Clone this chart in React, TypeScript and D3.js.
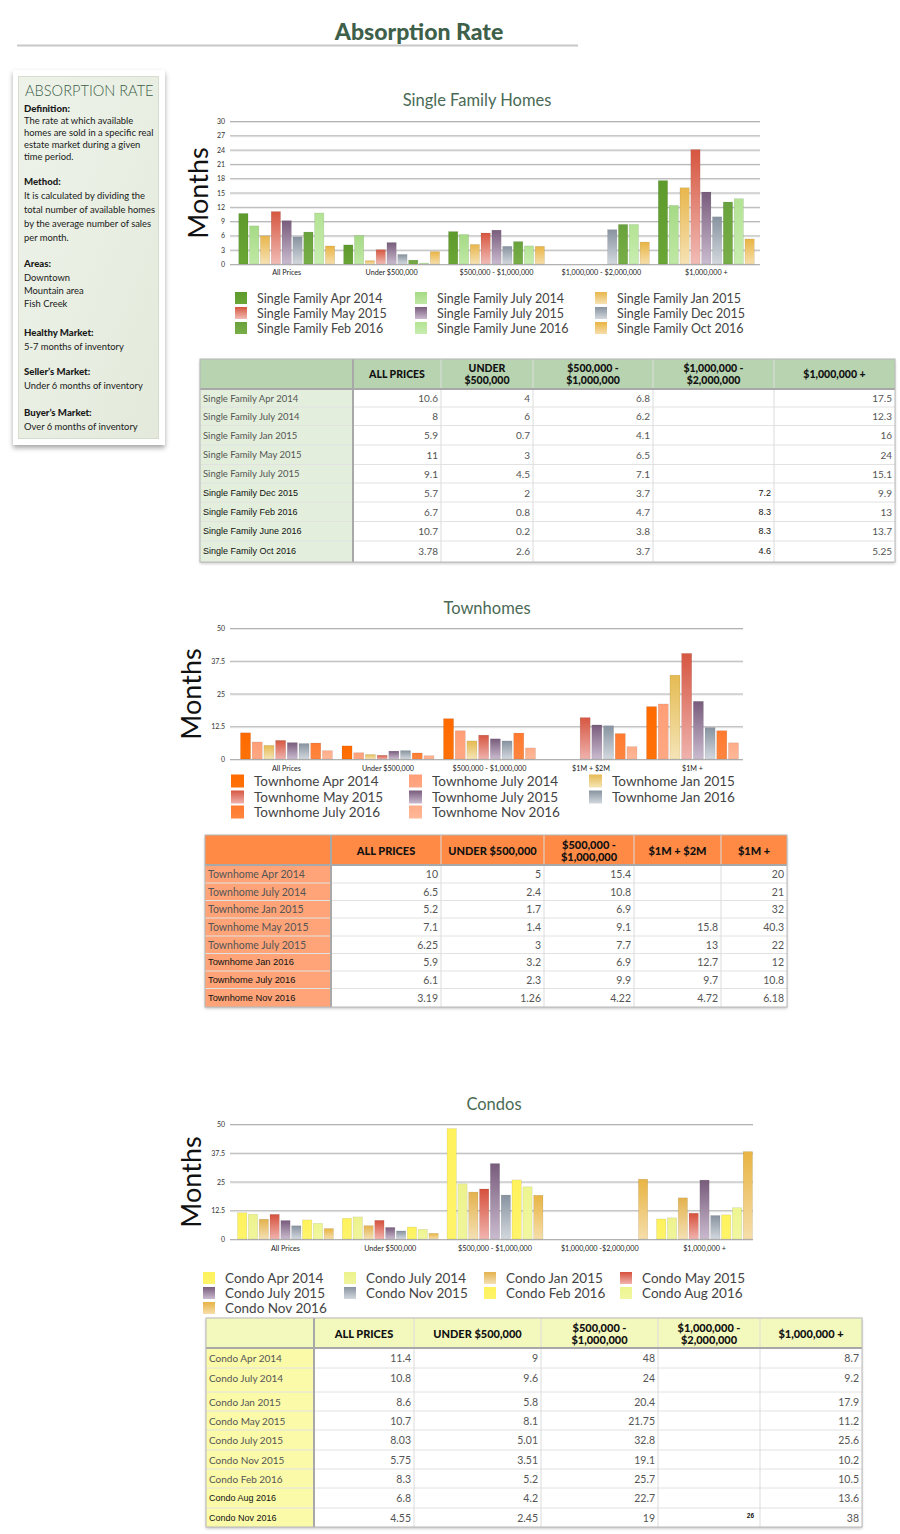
import React from "react";
import * as d3 from "d3";

type Val = number | null;

const SANS = "Lato, 'Open Sans', sans-serif";
const ARIAL = "'Liberation Sans', Arial, sans-serif";

// ---------- Single Family Homes ----------
const sfCategories = ["All Prices", "Under $500,000", "$500,000 - $1,000,000", "$1,000,000 - $2,000,000", "$1,000,000 +"];
const sfHeader = [["ALL PRICES"], ["UNDER", "$500,000"], ["$500,000 -", "$1,000,000"], ["$1,000,000 -", "$2,000,000"], ["$1,000,000 +"]];
const sfNames = [
  "Single Family Apr 2014", "Single Family July 2014", "Single Family Jan 2015",
  "Single Family May 2015", "Single Family July 2015", "Single Family Dec 2015",
  "Single Family Feb 2016", "Single Family June 2016", "Single Family Oct 2016",
];
const sfApr2014: Val[] = [10.6, 4, 6.8, null, 17.5];
const sfJul2014: Val[] = [8, 6, 6.2, null, 12.3];
const sfJan2015: Val[] = [5.9, 0.7, 4.1, null, 16];
const sfMay2015: Val[] = [11, 3, 6.5, null, 24];
const sfJul2015: Val[] = [9.1, 4.5, 7.1, null, 15.1];
const sfDec2015: Val[] = [5.7, 2, 3.7, 7.2, 9.9];
const sfFeb2016: Val[] = [6.7, 0.8, 4.7, 8.3, 13];
const sfJun2016: Val[] = [10.7, 0.2, 3.8, 8.3, 13.7];
const sfOct2016: Val[] = [3.78, 2.6, 3.7, 4.6, 5.25];
const sfValues = [sfApr2014, sfJul2014, sfJan2015, sfMay2015, sfJul2015, sfDec2015, sfFeb2016, sfJun2016, sfOct2016];
const sfTicks = [0, 3, 6, 9, 12, 15, 18, 21, 24, 27, 30];
const sfColors: [string, string][] = [
  ["#5d9a2c", "#6aa636"], ["#a6da86", "#bfe8a4"], ["#e8b64c", "#f6e2b4"],
  ["#d6563f", "#f1bcb6"], ["#785c7c", "#cabbcf"], ["#8793a0", "#d3d8de"],
  ["#69a23c", "#78ae48"], ["#b3e394", "#c8edb0"], ["#e9b444", "#f6deaa"],
];

// ---------- Townhomes ----------
const thCategories = ["All Prices", "Under $500,000", "$500,000 - $1,000,000", "$1M + $2M", "$1M +"];
const thHeader = [["ALL PRICES"], ["UNDER $500,000"], ["$500,000 -", "$1,000,000"], ["$1M + $2M"], ["$1M +"]];
const thNames = [
  "Townhome Apr 2014", "Townhome July 2014", "Townhome Jan 2015", "Townhome May 2015",
  "Townhome July 2015", "Townhome Jan 2016", "Townhome July 2016", "Townhome Nov 2016",
];
const thApr2014: Val[] = [10, 5, 15.4, null, 20];
const thJul2014: Val[] = [6.5, 2.4, 10.8, null, 21];
const thJan2015: Val[] = [5.2, 1.7, 6.9, null, 32];
const thMay2015: Val[] = [7.1, 1.4, 9.1, 15.8, 40.3];
const thJul2015: Val[] = [6.25, 3, 7.7, 13, 22];
const thJan2016: Val[] = [5.9, 3.2, 6.9, 12.7, 12];
const thJul2016: Val[] = [6.1, 2.3, 9.9, 9.7, 10.8];
const thNov2016: Val[] = [3.19, 1.26, 4.22, 4.72, 6.18];
const thValues = [thApr2014, thJul2014, thJan2015, thMay2015, thJul2015, thJan2016, thJul2016, thNov2016];
const thTicks = [0, 12.5, 25, 37.5, 50];
const thColors: [string, string][] = [
  ["#ff6a00", "#ff7208"], ["#ff9e76", "#ffa884"], ["#e5bb52", "#f5e4b6"], ["#d65742", "#efb2ad"],
  ["#785c7c", "#cabbcf"], ["#8793a0", "#d3d8de"], ["#ff7a2e", "#ff8640"], ["#ffac88", "#ffb898"],
];

// ---------- Condos ----------
const coCategories = ["All Prices", "Under $500,000", "$500,000 - $1,000,000", "$1,000,000 -$2,000,000", "$1,000,000 +"];
const coHeader = [["ALL PRICES"], ["UNDER $500,000"], ["$500,000 -", "$1,000,000"], ["$1,000,000 -", "$2,000,000"], ["$1,000,000 +"]];
const coNames = [
  "Condo Apr 2014", "Condo July 2014", "Condo Jan 2015", "Condo May 2015", "Condo July 2015",
  "Condo Nov 2015", "Condo Feb 2016", "Condo Aug 2016", "Condo Nov 2016",
];
const coApr2014: Val[] = [11.4, 9, 48, null, 8.7];
const coJul2014: Val[] = [10.8, 9.6, 24, null, 9.2];
const coJan2015: Val[] = [8.6, 5.8, 20.4, null, 17.9];
const coMay2015: Val[] = [10.7, 8.1, 21.75, null, 11.2];
const coJul2015: Val[] = [8.03, 5.01, 32.8, null, 25.6];
const coNov2015: Val[] = [5.75, 3.51, 19.1, null, 10.2];
const coFeb2016: Val[] = [8.3, 5.2, 25.7, null, 10.5];
const coAug2016: Val[] = [6.8, 4.2, 22.7, null, 13.6];
const coNov2016: Val[] = [4.55, 2.45, 19, 26, 38];
const coValues = [coApr2014, coJul2014, coJan2015, coMay2015, coJul2015, coNov2015, coFeb2016, coAug2016, coNov2016];
const coTicks = [0, 12.5, 25, 37.5, 50];
const coColors: [string, string][] = [
  ["#fff25c", "#fff46a"], ["#edf28e", "#f0f59c"], ["#e4b24e", "#f4e0b4"], ["#d6503c", "#f1b4ae"],
  ["#785c7c", "#cabbcf"], ["#8793a0", "#d3d8de"], ["#fff25c", "#fff46a"], ["#edf590", "#f1f7a0"],
  ["#e8b444", "#f6deaa"],
];

// ---------- Sidebar ----------
const sideLines: [string, number, boolean][] = [
  ["Definition:", 108, true],
  ["The rate at which available", 120, false],
  ["homes are sold in a specific real", 132, false],
  ["estate market during a given", 144, false],
  ["time period.", 156, false],
  ["Method:", 181, true],
  ["It is calculated by dividing the", 195, false],
  ["total number of available homes", 209, false],
  ["by the average number of sales", 223, false],
  ["per month.", 237, false],
  ["Areas:", 263, true],
  ["Downtown", 277, false],
  ["Mountain area", 290, false],
  ["Fish Creek", 303, false],
  ["Healthy Market:", 332, true],
  ["5-7 months of inventory", 346, false],
  ["Seller\u2019s Market:", 371, true],
  ["Under 6 months of inventory", 385, false],
  ["Buyer\u2019s Market:", 412, true],
  ["Over 6 months of inventory", 426, false],
];

interface ChartProps {
  id: string;
  title: string;
  titleX: number;
  titleY: number;
  categories: string[];
  names: string[];
  values: Val[][];
  colors: [string, string][];
  ticks: number[];
  yRange: [number, number];
  xRange: [number, number];
  padIn: number;
  padOut: number;
  gridX: [number, number];
  monthsX: number;
  monthsY: number;
  catY: number;
  legendCols: number[];
  legendRows: number[];
  legendFont: number;
  legendSquare: number;
}

function BarChart(p: ChartProps) {
  const x0 = d3.scaleBand<string>().domain(p.categories).range(p.xRange).paddingInner(p.padIn).paddingOuter(p.padOut);
  const x1 = d3.scaleBand<string>().domain(p.names).range([0, x0.bandwidth()]).paddingInner(0.14);
  const y = d3.scaleLinear().domain([0, d3.max(p.ticks) as number]).range(p.yRange);
  const nCols = p.legendCols.length;

  return (
    <g>
      <defs>
        {p.colors.map(([top, bottom], i) => (
          <linearGradient key={i} id={`${p.id}-g${i}`} x1="0" y1="0" x2="0" y2="1">
            <stop offset="0" stopColor={top} />
            <stop offset="1" stopColor={bottom} />
          </linearGradient>
        ))}
      </defs>
      <text x={p.titleX} y={p.titleY} textAnchor="middle" dominantBaseline="central" fontSize={16.5} fill="#4a6a55">
        {p.title}
      </text>
      <text
        transform={`translate(${p.monthsX},${p.monthsY}) rotate(-90)`}
        textAnchor="middle"
        dominantBaseline="central"
        fontSize={27}
        fill="#111"
      >
        Months
      </text>

      {/* gridlines + y ticks */}
      {p.ticks.map((t) => (
        <g key={t}>
          <line x1={p.gridX[0]} x2={p.gridX[1]} y1={y(t) + 1.5} y2={y(t) + 1.5} stroke="#e8e8e8" strokeWidth={1} />
          <line x1={p.gridX[0]} x2={p.gridX[1]} y1={y(t) + 0.5} y2={y(t) + 0.5} stroke="#b2b2b2" strokeWidth={1} />
          <text x={p.gridX[0] - 5} y={y(t)} textAnchor="end" dominantBaseline="central" fontSize={7} fill="#333">
            {String(t)}
          </text>
        </g>
      ))}

      {/* bars */}
      {p.categories.map((c, ci) => (
        <g key={c} transform={`translate(${x0(c)},0)`}>
          {p.names.map((n, si) => {
            const v = p.values[si][ci];
            if (v == null) return null;
            return (
              <rect
                key={n}
                x={x1(n)}
                y={y(v)}
                width={x1.bandwidth()}
                height={y(0) - y(v)}
                fill={`url(#${p.id}-g${si})`}
                stroke="rgba(0,0,0,0.12)"
                strokeWidth={0.6}
              />
            );
          })}
        </g>
      ))}

      {/* category labels */}
      {p.categories.map((c) => (
        <text
          key={c}
          x={(x0(c) as number) + x0.bandwidth() / 2}
          y={p.catY}
          textAnchor="middle"
          dominantBaseline="central"
          fontSize={7.2}
          fill="#222"
        >
          {c}
        </text>
      ))}

      {/* legend */}
      {p.names.map((n, i) => {
        const lx = p.legendCols[i % nCols];
        const ly = p.legendRows[Math.floor(i / nCols)];
        return (
          <g key={n}>
            <rect
              x={lx}
              y={ly - p.legendSquare / 2}
              width={p.legendSquare}
              height={p.legendSquare}
              fill={`url(#${p.id}-g${i})`}
            />
            <text
              x={lx + p.legendSquare + 10}
              y={ly}
              dominantBaseline="central"
              fontSize={p.legendFont}
              fill="#444"
            >
              {n}
            </text>
          </g>
        );
      })}
    </g>
  );
}

interface TableProps {
  cols: number[];
  rows: number[];
  header: string[][];
  labels: string[];
  values: Val[][];
  headerBg: string;
  labelBg: string;
  altLabelFrom: number;
  boldCol?: number;
  tiny?: [number, number][];
  headerFont: number;
  labelFont: number;
  altFont: number;
  valueFont: number;
}

function DataTable(t: TableProps) {
  const left = t.cols[0];
  const right = t.cols[t.cols.length - 1];
  const top = t.rows[0];
  const headBottom = t.rows[1];
  const bottom = t.rows[t.rows.length - 1];
  const isTiny = (r: number, c: number) => (t.tiny || []).some(([a, b]) => a === r && b === c);

  return (
    <g>
      <rect x={left} y={top} width={right - left} height={bottom - top} fill="#fff" filter="url(#tshadow)" />
      <rect x={left} y={top} width={right - left} height={headBottom - top} fill={t.headerBg} />
      <rect x={left} y={headBottom} width={t.cols[1] - left} height={bottom - headBottom} fill={t.labelBg} />

      {/* row separators */}
      {t.rows.slice(2, -1).map((ry, i) => (
        <line key={i} x1={left} x2={right} y1={ry} y2={ry} stroke="#e2e2e2" strokeWidth={1} />
      ))}
      {/* column separators */}
      {t.cols.slice(2, -1).map((cx, i) => (
        <line key={i} x1={cx} x2={cx} y1={top} y2={bottom} stroke="#dcdcdc" strokeWidth={1} />
      ))}
      <line x1={t.cols[1]} x2={t.cols[1]} y1={top} y2={bottom} stroke="#a8a8a8" strokeWidth={2} />
      <line x1={left} x2={right} y1={headBottom} y2={headBottom} stroke="#a8a8a8" strokeWidth={2} />
      <rect x={left} y={top} width={right - left} height={bottom - top} fill="none" stroke="#b8b8b8" strokeWidth={1} />

      {/* header */}
      {t.header.map((lines, ci) => {
        const cx = (t.cols[ci + 1] + t.cols[ci + 2]) / 2;
        const cy = (top + headBottom) / 2;
        return lines.map((ln, li) => (
          <text
            key={`${ci}-${li}`}
            x={cx}
            y={cy + (li - (lines.length - 1) / 2) * 12}
            textAnchor="middle"
            dominantBaseline="central"
            fontSize={t.headerFont}
            fontWeight={900}
            fill="#111"
          >
            {ln}
          </text>
        ));
      })}

      {/* body */}
      {t.labels.map((lab, ri) => {
        const ry0 = t.rows[ri + 1];
        const ry1 = t.rows[ri + 2];
        const cy = ry0 + Math.min(9.5, (ry1 - ry0) / 2);
        const alt = ri >= t.altLabelFrom;
        return (
          <g key={lab}>
            <text
              x={left + 3}
              y={cy}
              dominantBaseline="central"
              fontSize={alt ? t.altFont : t.labelFont}
              fontFamily={alt ? ARIAL : SANS}
              fill={alt ? "#111" : "#555"}
            >
              {lab}
            </text>
            {t.values[ri].map((v, ci) => {
              if (v == null) return null;
              const tiny = isTiny(ri, ci);
              const bold = t.boldCol === ci;
              return (
                <text
                  key={ci}
                  x={t.cols[ci + 2] - (tiny ? 6 : 3)}
                  y={tiny ? cy - 2 : cy}
                  textAnchor="end"
                  dominantBaseline="central"
                  fontSize={tiny ? 6.5 : bold ? t.altFont : t.valueFont}
                  fontFamily={tiny || bold ? ARIAL : SANS}
                  fontWeight={tiny ? 700 : 400}
                  fill={tiny || bold ? "#111" : "#555"}
                >
                  {String(v)}
                </text>
              );
            })}
          </g>
        );
      })}
    </g>
  );
}

export default function App() {
  return (
    <div style={{ position: "absolute", left: 0, top: 0 }}>
      <svg width={900} height={1534} style={{ display: "block", fontFamily: SANS, background: "#fff" }}>
        <defs>
          <filter id="tshadow" x="-5%" y="-5%" width="110%" height="115%">
            <feDropShadow dx="0" dy="1.5" stdDeviation="1.5" floodColor="#000" floodOpacity="0.25" />
          </filter>
          <filter id="cardshadow" x="-20%" y="-10%" width="140%" height="125%">
            <feDropShadow dx="0" dy="3" stdDeviation="2.5" floodColor="#000" floodOpacity="0.35" />
          </filter>
          <linearGradient id="sideBg" x1="0" y1="0" x2="1" y2="1">
            <stop offset="0" stopColor="#eef3ea" />
            <stop offset="1" stopColor="#e3eadb" />
          </linearGradient>
        </defs>

        {/* page title */}
        <text x={419} y={31} textAnchor="middle" dominantBaseline="central" fontSize={23} fontWeight={900} fill="#3e5f4a">
          Absorption Rate
        </text>
        <line x1={17} x2={578} y1={45.5} y2={45.5} stroke="#c8c8c8" strokeWidth={2} />

        {/* sidebar */}
        <rect x={13} y={70} width={152} height={375} fill="#fff" filter="url(#cardshadow)" />
        <rect x={18.5} y={76.5} width={140} height={362} fill="url(#sideBg)" stroke="#d6ddcf" />
        <text x={25} y={90} dominantBaseline="central" fontSize={14.6} fill="#3e5f4a" fontWeight={300}>
          ABSORPTION RATE
        </text>
        {sideLines.map(([s, ly, b]) => (
          <text key={s} x={24} y={ly} dominantBaseline="central" fontSize={b ? 9.6 : 9.4} fontWeight={b ? 900 : 400} fill="#1a1a1a">
            {s}
          </text>
        ))}

        <BarChart
          id="sf"
          title="Single Family Homes"
          titleX={477}
          titleY={100}
          categories={sfCategories}
          names={sfNames}
          values={sfValues}
          colors={sfColors}
          ticks={sfTicks}
          yRange={[264, 121]}
          xRange={[234, 759]}
          padIn={0.085}
          padOut={0.045}
          gridX={[230, 760]}
          monthsX={197}
          monthsY={193}
          catY={272}
          legendCols={[235, 415, 595]}
          legendRows={[298, 313, 328]}
          legendFont={12.5}
          legendSquare={12}
        />
        <DataTable
          cols={[200, 353, 441, 533, 653, 774, 895]}
          rows={[359, 389, 407, 425.5, 445, 464.5, 483, 502, 521.5, 541, 562]}
          header={sfHeader}
          labels={sfNames}
          values={sfValues}
          headerBg="#b7d3b0"
          labelBg="#e3efdc"
          altLabelFrom={5}
          boldCol={3}
          headerFont={10.5}
          labelFont={9.5}
          altFont={9}
          valueFont={10}
        />

        <BarChart
          id="th"
          title="Townhomes"
          titleX={487}
          titleY={608}
          categories={thCategories}
          names={thNames}
          values={thValues}
          colors={thColors}
          ticks={thTicks}
          yRange={[759, 628]}
          xRange={[234, 745]}
          padIn={0.094}
          padOut={0.064}
          gridX={[230, 743]}
          monthsX={190}
          monthsY={694}
          catY={768}
          legendCols={[231, 409, 589]}
          legendRows={[781, 797, 812]}
          legendFont={13.5}
          legendSquare={13}
        />
        <DataTable
          cols={[205, 331, 441, 544, 634, 721, 787]}
          rows={[835, 865, 883, 900.5, 918, 936, 953.5, 971, 988.5, 1007]}
          header={thHeader}
          labels={thNames}
          values={thValues}
          headerBg="#ff8a45"
          labelBg="#ffa478"
          altLabelFrom={5}
          headerFont={11}
          labelFont={10.5}
          altFont={9.3}
          valueFont={10.5}
        />

        <BarChart
          id="co"
          title="Condos"
          titleX={494}
          titleY={1104}
          categories={coCategories}
          names={coNames}
          values={coValues}
          colors={coColors}
          ticks={coTicks}
          yRange={[1239, 1124]}
          xRange={[233, 757]}
          padIn={0.084}
          padOut={0.043}
          gridX={[230, 753]}
          monthsX={190}
          monthsY={1182}
          catY={1248}
          legendCols={[203, 344, 484, 620]}
          legendRows={[1278, 1293, 1308]}
          legendFont={13.5}
          legendSquare={12}
        />
        <DataTable
          cols={[206, 314, 414, 541, 658, 760, 862]}
          rows={[1318, 1348, 1368, 1392, 1411, 1430, 1450, 1469, 1488, 1508, 1527]}
          header={coHeader}
          labels={coNames}
          values={coValues}
          headerBg="#f3f8bd"
          labelBg="#fbfaa9"
          altLabelFrom={7}
          tiny={[[8, 3]]}
          headerFont={11}
          labelFont={10}
          altFont={9}
          valueFont={10.5}
        />
      </svg>
    </div>
  );
}
